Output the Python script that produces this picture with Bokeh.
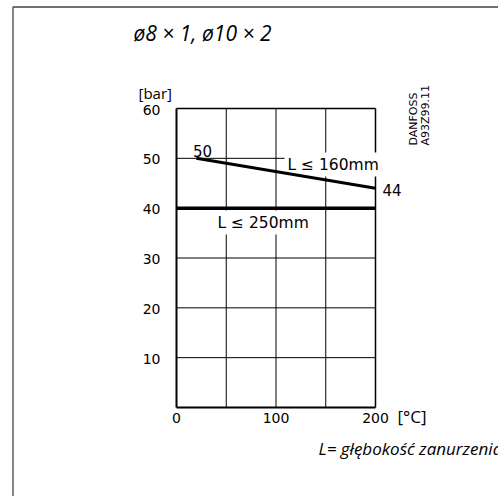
import math
from bokeh.plotting import figure
from bokeh.models import Range1d, Label
from bokeh.core.properties import value
from bokeh.embed import file_html
from bokeh.resources import INLINE

# ---- data ----
temp_160 = [20, 200]
bar_160 = [50, 44]
temp_250 = [0, 200]
bar_250 = [40, 40]
x_ticks = [0, 100, 200]
x_grid = [0, 50, 100, 150, 200]
y_ticks = [10, 20, 30, 40, 50, 60]
y_grid = [0, 10, 20, 30, 40, 50, 60]
title_text = "ø8 × 1, ø10 × 2"
y_unit = "[bar]"
x_unit = "[°C]"
note = "L= głębokość zanurzenia"
label_160 = "L ≤ 160mm"
label_250 = "L ≤ 250mm"
start_label = "50"
end_label = "44"

# ---- layout (pixel geometry of the chart area) ----
W, H = 498, 496
X0_PX, X1_PX = 176, 375      # x = 0 / 200
Y0_PX, Y1_PX = 407, 108      # y = 0 / 60
xs = (x_grid[-1] - x_grid[0]) / (X1_PX - X0_PX)
ys = (y_grid[-1] - y_grid[0]) / (Y0_PX - Y1_PX)


def dx(px):
    return x_grid[0] + (px - X0_PX) * xs


def dy(py):
    return y_grid[0] + (Y0_PX - py) * ys


p = figure(width=W, height=H, output_backend="svg", toolbar_location=None,
           x_axis_type=None, y_axis_type=None,
           x_range=Range1d(dx(0), dx(W)), y_range=Range1d(dy(H), dy(0)),
           min_border=0)
p.background_fill_color = "white"
p.border_fill_color = "white"
p.outline_line_color = None
p.grid.visible = False

xmin, xmax = x_grid[0], x_grid[-1]
ymin, ymax = y_grid[0], y_grid[-1]

# outer frame of the sheet
p.line(x=[dx(12.5), dx(12.5), dx(W + 20)], y=[dy(H + 20), dy(6.5), dy(6.5)],
       line_color="#444444", line_width=1.3)

# inner grid
p.segment(x0=x_grid[1:-1], y0=[ymin] * 3, x1=x_grid[1:-1], y1=[ymax] * 3,
          line_color="black", line_width=1)
p.segment(x0=[xmin] * 5, y0=y_grid[1:-1], x1=[xmax] * 5, y1=y_grid[1:-1],
          line_color="black", line_width=1)
# frame edges
p.segment(x0=[xmin, xmin], y0=[ymin, ymin], x1=[xmin, xmax], y1=[ymax, ymin],
          line_color="black", line_width=2)
p.segment(x0=[xmax, xmin], y0=[ymin, ymax], x1=[xmax, xmax], y1=[ymax, ymax],
          line_color="black", line_width=1.5)

# tick labels
p.text(x=x_ticks, y=[ymin] * len(x_ticks), text=[str(v) for v in x_ticks],
       text_font=value("DejaVu Sans"), text_font_size="14px", text_color="black",
       text_align="center", text_baseline="top", y_offset=5)
p.text(x=[xmin] * len(y_ticks), y=y_ticks, text=[str(v) for v in y_ticks],
       text_font=value("DejaVu Sans"), text_font_size="14px", text_color="black",
       text_align="right", text_baseline="middle", x_offset=-16, y_offset=1)

# data lines
p.line(temp_250, bar_250, line_width=3.5, line_color="black")
p.line(temp_160, bar_160, line_width=3, line_color="black", level="overlay")


def lab(x, y, text, font="DejaVu Sans", size="15px", style="normal", align="left",
        baseline="alphabetic", angle=0, bg=None):
    kw = {}
    if bg:
        kw = dict(background_fill_color=bg, padding=3)
    p.add_layout(Label(x=x, y=y, text=text, text_font=font, text_font_size=size,
                       text_font_style=style, text_align=align, text_baseline=baseline,
                       angle=angle, text_color="black", **kw))


lab(dx(133), dy(32), title_text, font="Open Sans", size="21px", style="italic")
lab(dx(138), dy(92), y_unit, font="Open Sans", size="15px")
lab(dx(397), dy(416), x_unit, font="Open Sans", size="17px")
lab(dx(318), dy(448), note, font="Open Sans", size="17px", style="italic")
lab(dx(202), dy(150), start_label, align="center")
lab(dx(382), dy(189), end_label)
lab(dx(284), dy(164), label_160, size="15.5px", bg="white")
lab(dx(214), dy(222), label_250, size="15.5px", bg="white")
lab(dx(413), dy(145), "DANFOSS", size="11px", angle=math.pi / 2)
lab(dx(425), dy(145), "A93Z99.11", size="11px", angle=math.pi / 2)

open("out.html", "w").write(file_html(p, INLINE))
